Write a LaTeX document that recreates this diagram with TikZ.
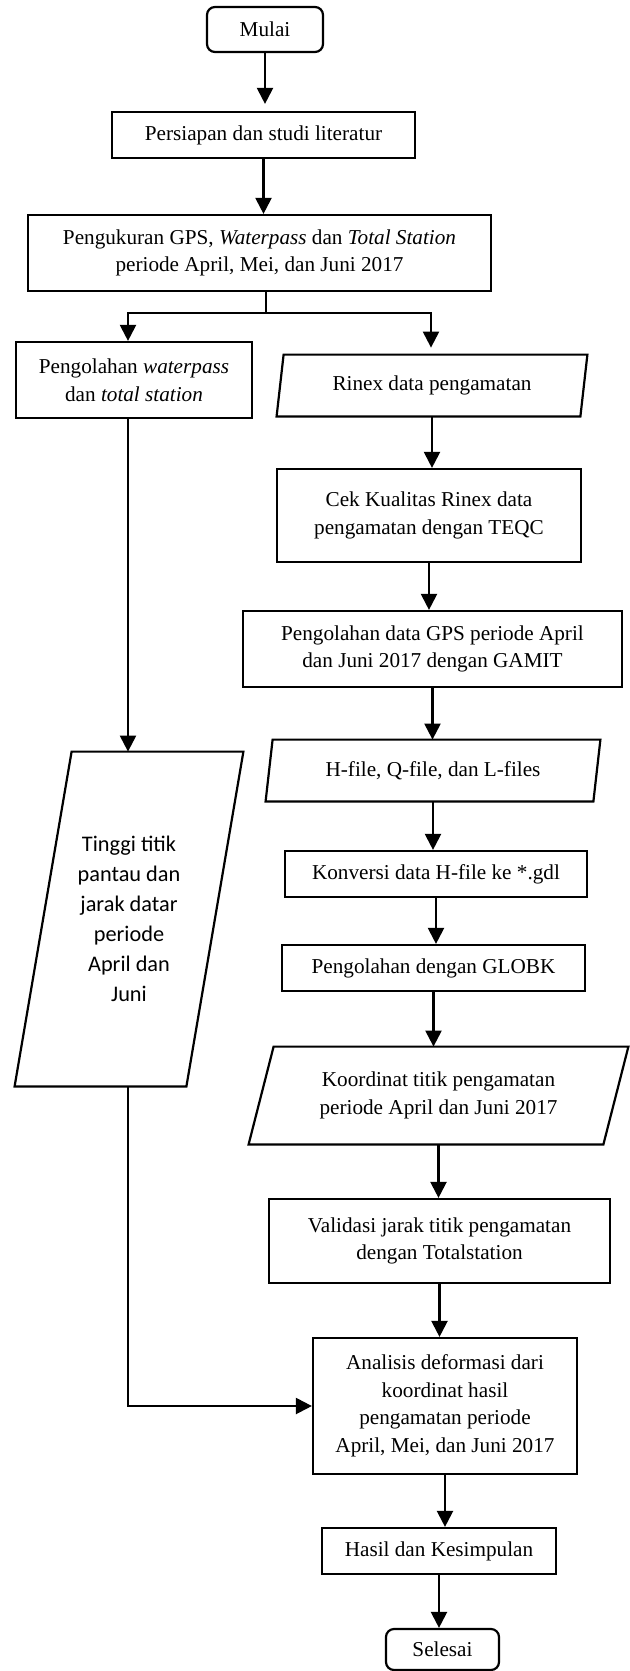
\documentclass[tikz,border=0pt]{standalone}
\usepackage{fontspec}
\setmainfont{Liberation Serif}
\newfontfamily\calfont{Carlito}
\usetikzlibrary{arrows.meta}

\newcommand{\slantframe}[2]{%
  \draw[line width=1.1pt] ([xshift=#2]#1.north west) -- ([xshift=#2]#1.north east)
    -- ([xshift=-#2]#1.south east) -- ([xshift=-#2]#1.south west) -- cycle;}

\begin{document}
\begin{tikzpicture}[x=0.5pt, y=-0.5pt,
    txt/.style={align=center, inner sep=0pt, font=\fontsize{10.6}{13.75}\selectfont},
    box/.style={txt, draw, line width=1.1pt},
    terminal/.style={box, rounded corners=4pt},
    arrow/.style={-{Triangle[width=8pt,length=8pt]}, line width=1.1pt}]
    \useasboundingbox (0,0) rectangle (629,1671);

    \node[terminal, minimum width=58pt, minimum height=22.5pt] (mulai) at (265, 29.5) {Mulai};
    \node[box, minimum width=151.5pt, minimum height=23pt] (persiapan) at (263.5, 135) {Persiapan dan studi literatur};
    \node[box, minimum width=231.5pt, minimum height=38pt] (ukur) at (259.5, 253)
        {Pengukuran GPS, \textit{Waterpass} dan \textit{Total Station}\\periode April, Mei, dan Juni 2017};
    \node[box, minimum width=118pt, minimum height=38pt] (olahwp) at (134, 380)
        {Pengolahan \textit{waterpass}\\dan \textit{total station}};
    \node[txt, minimum width=151.5pt, minimum height=30.5pt] (rinex) at (432, 385.5) {Rinex data pengamatan};
    \node[box, minimum width=152pt, minimum height=46.5pt] (cek) at (429, 515.5)
        {Cek Kualitas Rinex data\\pengamatan dengan TEQC};
    \node[box, minimum width=189.5pt, minimum height=38pt] (gamit) at (432.5, 649)
        {Pengolahan data GPS periode April\\dan Juni 2017 dengan GAMIT};
    \node[txt, minimum width=163.5pt, minimum height=30.5pt] (hfile) at (433, 770.5) {H-file, Q-file, dan L-files};
    \node[box, minimum width=151pt, minimum height=23pt] (konversi) at (436, 874) {Konversi data H-file ke *.gdl};
    \node[box, minimum width=151.5pt, minimum height=23pt] (globk) at (433.5, 968) {Pengolahan dengan GLOBK};
    \node[txt, minimum width=177pt, minimum height=48.5pt] (koord) at (438.5, 1095.5)
        {Koordinat titik pengamatan\\periode April dan Juni 2017};
    \node[txt, minimum width=85.5pt, minimum height=167pt, font=\calfont\fontsize{11.15}{15}\selectfont] (tinggi) at (129, 919)
        {Tinggi titik\\pantau dan\\jarak datar\\periode\\April dan\\Juni};
    \node[box, minimum width=170.5pt, minimum height=42pt] (validasi) at (439.5, 1241)
        {Validasi jarak titik pengamatan\\dengan Totalstation};
    \node[box, minimum width=132pt, minimum height=68pt] (analisis) at (445, 1406)
        {Analisis deformasi dari\\koordinat hasil\\pengamatan periode\\April, Mei, dan Juni 2017};
    \node[box, minimum width=117pt, minimum height=23pt] (hasil) at (439, 1551) {Hasil dan Kesimpulan};
    \node[terminal, minimum width=56.5pt, minimum height=20.5pt] (selesai) at (442.5, 1649.5) {Selesai};

    \slantframe{rinex}{1.75pt}
    \slantframe{hfile}{1.75pt}
    \slantframe{koord}{6.25pt}
    \slantframe{tinggi}{14.25pt}

    \coordinate (fork) at (266, 313);
    \coordinate (forkL) at (128, 313);
    \coordinate (forkR) at (431, 313);

    \draw[arrow, shorten >=3.5pt] (mulai) -- (mulai |- persiapan.north);
    \draw[arrow] (persiapan) -- (persiapan |- ukur.north);
    \draw[line width=1.1pt] (fork |- ukur.south) -- (fork);
    \draw[arrow] (fork) -| (forkL |- olahwp.north);
    \draw[arrow] (fork) -| ([yshift=3.5pt]forkR |- rinex.north);
    \draw[arrow] (rinex) -- (rinex |- cek.north);
    \draw[arrow] (cek) -- (cek |- gamit.north);
    \draw[arrow] (gamit) -- (gamit |- hfile.north);
    \draw[arrow] (hfile) -- (hfile |- konversi.north);
    \draw[arrow] (konversi) -- (konversi |- globk.north);
    \draw[arrow] (globk) -- (globk |- koord.north);
    \draw[arrow] (koord) -- (koord |- validasi.north);
    \draw[arrow] (validasi) -- (validasi |- analisis.north);
    \draw[arrow] (analisis) -- (analisis |- hasil.north);
    \draw[arrow] (hasil) -- (hasil |- selesai.north);
    \draw[arrow] (forkL |- olahwp.south) -- (forkL |- tinggi.north);
    \draw[arrow] (forkL |- tinggi.south) |- (analisis.west);
\end{tikzpicture}
\end{document}
